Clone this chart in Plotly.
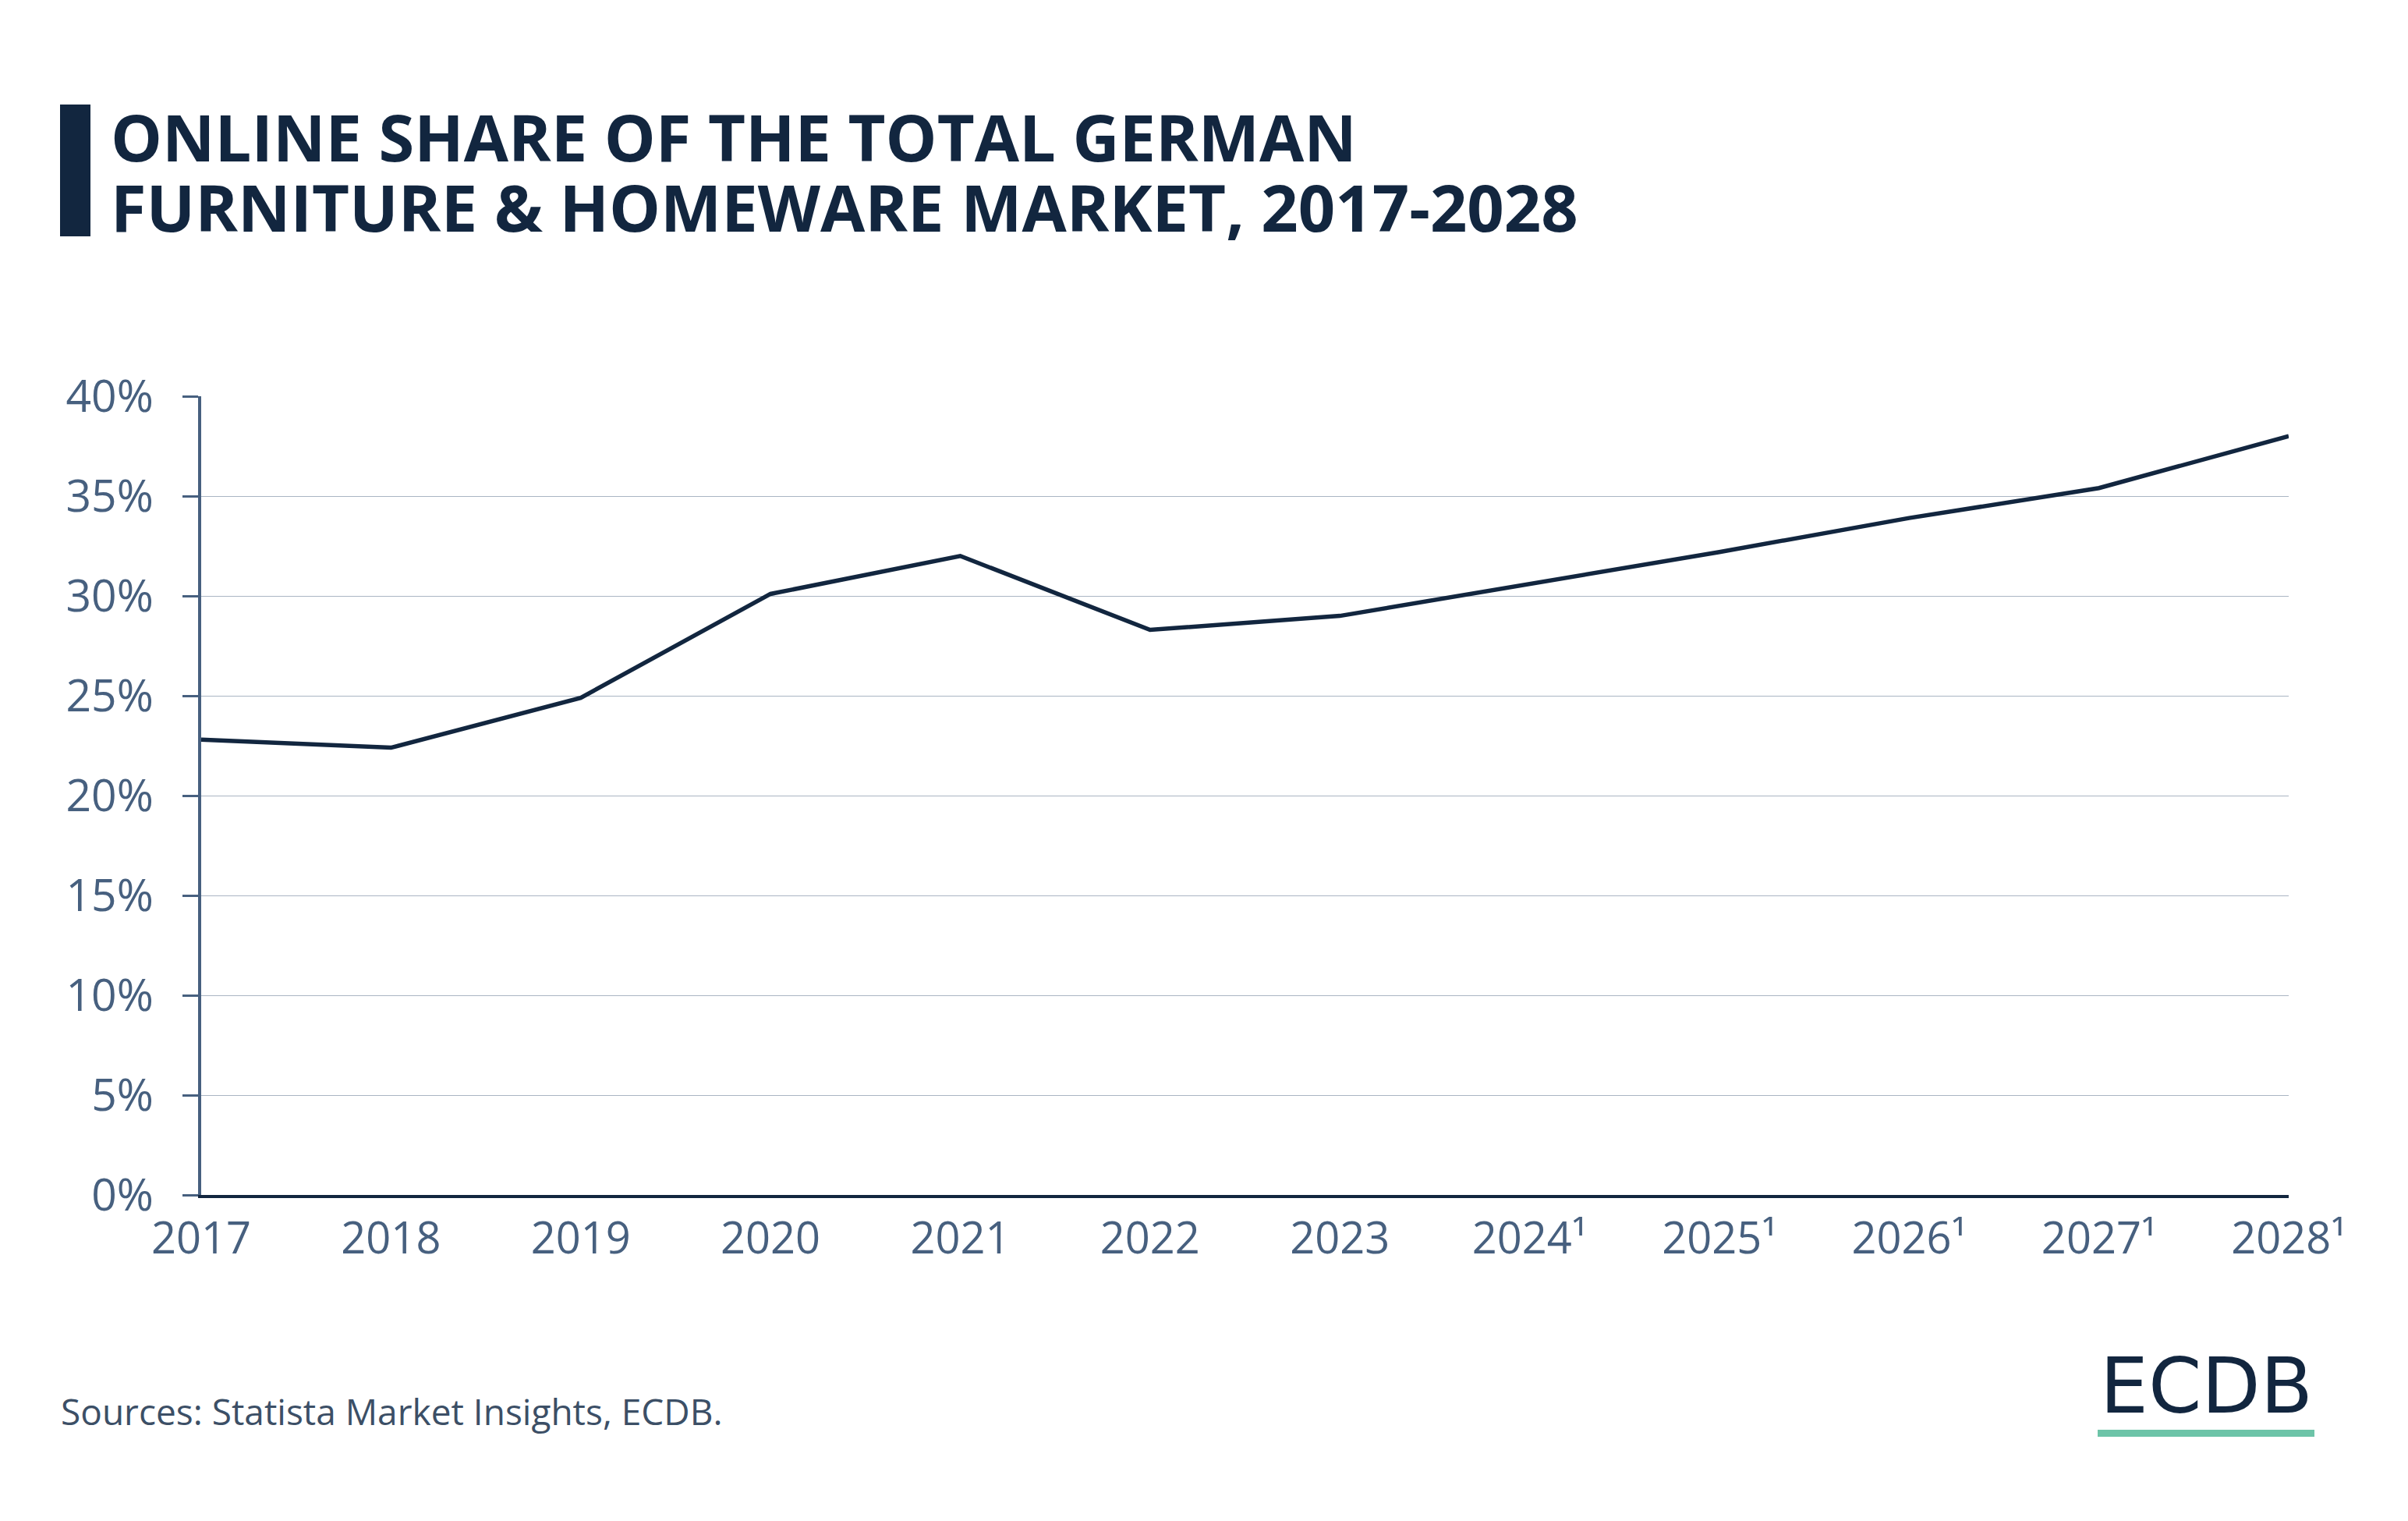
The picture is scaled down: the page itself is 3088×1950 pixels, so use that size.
import plotly.graph_objects as go

# ---- data ----
years = ["2017", "2018", "2019", "2020", "2021", "2022", "2023",
         "2024¹", "2025¹", "2026¹", "2027¹", "2028¹"]
online_share = [22.8, 22.4, 24.9, 30.1, 32.0, 28.3, 29.0, 30.6, 32.2, 33.9, 35.4, 38.0]
y_ticks = [0, 5, 10, 15, 20, 25, 30, 35, 40]
y_tick_labels = [f"{v}%" for v in y_ticks]

title_line1 = "ONLINE SHARE OF THE TOTAL GERMAN"
title_line2 = "FURNITURE & HOMEWARE MARKET, 2017-2028"
source_text = "Sources: Statista Market Insights, ECDB."
logo_text = "ECDB"

# ---- layout geometry (pixels) ----
W, H = 3088, 1950
PL, PR, PT, PB = 258, 2935, 508, 1532

def px(x):
    return (x - PL) / (PR - PL)

def py(y):
    return (PB - y) / (PB - PT)

NAVY = "#12263f"
SLATE = "#47607f"
GRID = "#aab5c3"
FONT = "Open Sans"

fig = go.Figure()
fig.add_trace(go.Scatter(
    x=years, y=online_share, mode="lines",
    line=dict(color=NAVY, width=5.5),
    hoverinfo="skip", showlegend=False, cliponaxis=False,
))

fig.update_layout(
    width=W, height=H,
    margin=dict(l=PL, r=W - PR, t=PT, b=H - PB, pad=0),
    paper_bgcolor="white", plot_bgcolor="white",
    font=dict(family=FONT, color=SLATE),
    xaxis=dict(
        type="category", range=[0, len(years) - 1],
        showgrid=False, zeroline=False,
        showline=True, linecolor=NAVY, linewidth=4,
        ticks="", tickfont=dict(size=56, color=SLATE, family=FONT),
        ticklabelstandoff=4,
    ),
    yaxis=dict(
        range=[0, 40], tickvals=y_ticks, ticktext=y_tick_labels,
        showgrid=True, gridcolor=GRID, gridwidth=1.2,
        zeroline=False,
        showline=True, linecolor=SLATE, linewidth=3.5,
        ticks="outside", ticklen=20, tickwidth=3, tickcolor=SLATE,
        tickfont=dict(size=57, color=SLATE, family=FONT),
        ticklabelstandoff=26,
    ),
)

# title bar
fig.add_shape(type="rect", xref="paper", yref="paper",
              x0=px(77), x1=px(116), y0=py(303), y1=py(134),
              fillcolor=NAVY, line=dict(width=0))
# title lines
for txt, yc in [(title_line1, 174), (title_line2, 264)]:
    fig.add_annotation(text=txt, xref="paper", yref="paper",
                       x=px(140), y=py(yc), xanchor="left", yanchor="middle",
                       showarrow=False,
                       font=dict(family=FONT, size=83, color=NAVY, weight="bold"))
# source
fig.add_annotation(text=source_text, xref="paper", yref="paper",
                   x=px(76), y=py(1809), xanchor="left", yanchor="middle",
                   showarrow=False,
                   font=dict(family=FONT, size=46, color="#3c4f66"))
# logo
fig.add_annotation(text=logo_text, xref="paper", yref="paper",
                   x=px(2829), y=py(1777), xanchor="center", yanchor="middle",
                   showarrow=False,
                   font=dict(family="DejaVu Sans", size=98, color=NAVY))
fig.add_shape(type="rect", xref="paper", yref="paper",
              x0=px(2690), x1=px(2968), y0=py(1842), y1=py(1833),
              fillcolor="#6dc4a8", line=dict(width=0))

fig.write_html("out.html")
